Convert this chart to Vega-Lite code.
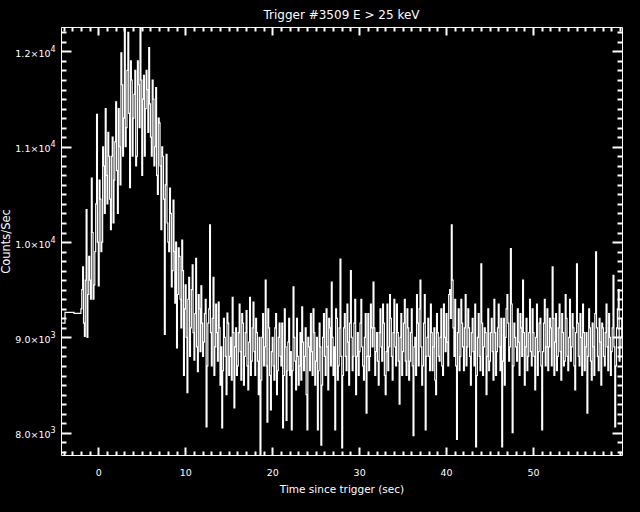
{
  "$schema": "https://vega.github.io/schema/vega-lite/v6.json",
  "width": 561,
  "height": 428,
  "autosize": {"type": "none"},
  "padding": {"left": 61, "top": 27, "right": 18, "bottom": 57},
  "background": "black",
  "title": {"text": "Trigger #3509 E > 25 keV", "color": "white", "font": "DejaVu Sans", "fontSize": 12, "fontWeight": "normal", "baseline": "alphabetic", "offset": -5, "anchor": "middle"},
  "config": {
    "view": {"stroke": "white", "strokeWidth": 1},
    "axis": {"labelColor": "white", "titleColor": "white", "labelFont": "DejaVu Sans", "titleFont": "DejaVu Sans", "labelFontSize": 9.5, "titleFontWeight": "normal", "grid": false}
  },
  "data": {"values": [
    {"t":-4.29,"c":9150},{"t":-3.83,"c":9262},{"t":-2.79,"c":9252},
    {"t":-2.0,"c":9300},{"t":-1.8,"c":9740},{"t":-1.6,"c":9010},{"t":-1.4,"c":10340},{"t":-1.2,"c":9450},
    {"t":-1.0,"c":9600},{"t":-0.8,"c":10670},{"t":-0.6,"c":9400},{"t":-0.4,"c":9900},{"t":-0.2,"c":11340},
    {"t":0.0,"c":9540},{"t":0.2,"c":10450},{"t":0.4,"c":10000},{"t":0.6,"c":10800},{"t":0.8,"c":11400},
    {"t":1.0,"c":10400},{"t":1.2,"c":10900},{"t":1.4,"c":10130},{"t":1.6,"c":11100},{"t":1.8,"c":10650},
    {"t":2.0,"c":11470},{"t":2.2,"c":10300},{"t":2.4,"c":11000},{"t":2.6,"c":11985},{"t":2.8,"c":10900},
    {"t":3.0,"c":12250},{"t":3.2,"c":11200},{"t":3.4,"c":12200},{"t":3.6,"c":10570},{"t":3.8,"c":11700},
    {"t":4.0,"c":11300},{"t":4.2,"c":11800},{"t":4.4,"c":10900},{"t":4.6,"c":11650},{"t":4.8,"c":12250},
    {"t":5.0,"c":10700},{"t":5.2,"c":11750},{"t":5.4,"c":11400},{"t":5.6,"c":11600},{"t":5.8,"c":12040},
    {"t":6.0,"c":11100},{"t":6.2,"c":11700},{"t":6.4,"c":10800},{"t":6.6,"c":11620},{"t":6.8,"c":10500},
    {"t":7.0,"c":11250},{"t":7.2,"c":10130},{"t":7.4,"c":10900},{"t":7.6,"c":9030},{"t":7.8,"c":10920},
    {"t":8.0,"c":10000},{"t":8.2,"c":10565},{"t":8.4,"c":9530},{"t":8.6,"c":10440},{"t":8.8,"c":9360},
    {"t":9.0,"c":8890},{"t":9.2,"c":9940},{"t":9.4,"c":9400},{"t":9.6,"c":10020},{"t":9.8,"c":8600},
    {"t":10.0,"c":9550},{"t":10.2,"c":8420},{"t":10.4,"c":9630},{"t":10.6,"c":9100},{"t":10.8,"c":9760},
    {"t":11.0,"c":8760},{"t":11.2,"c":9830},{"t":11.4,"c":8640},{"t":11.6,"c":9300},{"t":11.8,"c":9540},
    {"t":12.0,"c":8800},{"t":12.2,"c":9250},{"t":12.4,"c":8060},{"t":12.6,"c":9150},{"t":12.8,"c":10180},
    {"t":13.0,"c":8700},{"t":13.2,"c":9630},{"t":13.4,"c":8900},{"t":13.6,"c":9050},{"t":13.8,"c":9370},
    {"t":14.0,"c":8500},{"t":14.2,"c":8050},{"t":14.4,"c":9200},{"t":14.6,"c":8800},{"t":14.8,"c":9255},
    {"t":15.0,"c":8600},{"t":15.2,"c":9000},{"t":15.4,"c":9420},{"t":15.6,"c":8260},{"t":15.8,"c":9100},
    {"t":16.0,"c":8700},{"t":16.2,"c":9350},{"t":16.4,"c":8550},{"t":16.6,"c":9150},{"t":16.8,"c":8800},
    {"t":17.0,"c":9280},{"t":17.2,"c":8450},{"t":17.4,"c":9420},{"t":17.6,"c":8750},{"t":17.8,"c":9370},
    {"t":18.0,"c":8600},{"t":18.2,"c":9050},{"t":18.4,"c":8400},{"t":18.6,"c":7700},{"t":18.8,"c":9000},
    {"t":19.0,"c":8700},{"t":19.2,"c":9600},{"t":19.4,"c":8110},{"t":19.6,"c":9100},{"t":19.8,"c":8240},
    {"t":20.0,"c":9000},{"t":20.2,"c":8550},{"t":20.4,"c":9250},{"t":20.6,"c":8650},{"t":20.8,"c":9150},
    {"t":21.0,"c":8700},{"t":21.2,"c":8050},{"t":21.4,"c":9300},{"t":21.6,"c":8130},{"t":21.8,"c":8950},
    {"t":22.0,"c":8600},{"t":22.2,"c":8030},{"t":22.4,"c":9530},{"t":22.6,"c":8750},{"t":22.8,"c":9200},
    {"t":23.0,"c":8500},{"t":23.2,"c":9050},{"t":23.4,"c":9320},{"t":23.6,"c":8650},{"t":23.8,"c":9100},
    {"t":24.0,"c":8030},{"t":24.2,"c":8900},{"t":24.4,"c":9250},{"t":24.6,"c":8600},{"t":24.8,"c":9050},
    {"t":25.0,"c":8750},{"t":25.2,"c":8030},{"t":25.4,"c":9150},{"t":25.6,"c":7870},{"t":25.8,"c":9000},
    {"t":26.0,"c":8800},{"t":26.2,"c":9300},{"t":26.4,"c":8450},{"t":26.6,"c":9100},{"t":26.8,"c":9580},
    {"t":27.0,"c":8600},{"t":27.2,"c":8030},{"t":27.4,"c":9200},{"t":27.6,"c":8700},{"t":27.8,"c":9820},
    {"t":28.0,"c":7840},{"t":28.2,"c":9100},{"t":28.4,"c":8800},{"t":28.6,"c":9350},{"t":28.8,"c":8500},
    {"t":29.0,"c":9700},{"t":29.2,"c":8650},{"t":29.4,"c":9150},{"t":29.6,"c":8400},{"t":29.8,"c":9050},
    {"t":30.0,"c":8850},{"t":30.2,"c":9400},{"t":30.4,"c":8700},{"t":30.6,"c":9000},{"t":30.8,"c":8205},
    {"t":31.0,"c":9250},{"t":31.2,"c":8800},{"t":31.4,"c":9100},{"t":31.6,"c":9580},{"t":31.8,"c":8600},
    {"t":32.0,"c":9050},{"t":32.2,"c":8500},{"t":32.4,"c":9300},{"t":32.6,"c":8750},{"t":32.8,"c":9150},
    {"t":33.0,"c":8400},{"t":33.2,"c":9350},{"t":33.4,"c":8900},{"t":33.6,"c":9200},{"t":33.8,"c":8550},
    {"t":34.0,"c":9400},{"t":34.2,"c":8700},{"t":34.4,"c":9050},{"t":34.6,"c":8300},{"t":34.8,"c":9250},
    {"t":35.0,"c":8850},{"t":35.2,"c":9400},{"t":35.4,"c":8600},{"t":35.6,"c":9100},{"t":35.8,"c":8750},
    {"t":36.0,"c":9300},{"t":36.2,"c":7970},{"t":36.4,"c":9000},{"t":36.6,"c":9450},{"t":36.8,"c":8700},
    {"t":37.0,"c":9600},{"t":37.2,"c":8500},{"t":37.4,"c":9150},{"t":37.6,"c":8030},{"t":37.8,"c":9000},
    {"t":38.0,"c":8800},{"t":38.2,"c":9350},{"t":38.4,"c":8650},{"t":38.6,"c":9100},{"t":38.8,"c":8400},
    {"t":39.0,"c":9050},{"t":39.2,"c":8750},{"t":39.4,"c":9300},{"t":39.6,"c":8600},{"t":39.8,"c":9000},
    {"t":40.0,"c":9250},{"t":40.2,"c":8700},{"t":40.4,"c":9500},{"t":40.6,"c":10180},{"t":40.8,"c":9100},
    {"t":41.0,"c":9400},{"t":41.2,"c":7930},{"t":41.4,"c":9300},{"t":41.6,"c":8800},{"t":41.8,"c":9150},
    {"t":42.0,"c":8650},{"t":42.2,"c":9450},{"t":42.4,"c":8900},{"t":42.6,"c":9100},{"t":42.8,"c":8500},
    {"t":43.0,"c":9200},{"t":43.2,"c":8700},{"t":43.4,"c":7850},{"t":43.6,"c":9000},{"t":43.8,"c":8800},
    {"t":44.0,"c":9770},{"t":44.2,"c":8600},{"t":44.4,"c":9100},{"t":44.6,"c":8400},{"t":44.8,"c":9300},
    {"t":45.0,"c":8750},{"t":45.2,"c":9200},{"t":45.4,"c":8550},{"t":45.6,"c":9050},{"t":45.8,"c":8850},
    {"t":46.0,"c":9350},{"t":46.2,"c":8650},{"t":46.4,"c":7850},{"t":46.6,"c":9200},{"t":46.8,"c":9000},
    {"t":47.0,"c":9450},{"t":47.2,"c":8750},{"t":47.4,"c":9930},{"t":47.6,"c":8000},{"t":47.8,"c":9150},
    {"t":48.0,"c":8900},{"t":48.2,"c":9300},{"t":48.4,"c":8600},{"t":48.6,"c":9100},{"t":48.8,"c":9600},
    {"t":49.0,"c":8500},{"t":49.2,"c":9200},{"t":49.4,"c":8800},{"t":49.6,"c":9400},{"t":49.8,"c":8700},
    {"t":50.0,"c":9050},{"t":50.2,"c":8450},{"t":50.4,"c":9350},{"t":50.6,"c":8850},{"t":50.8,"c":9200},
    {"t":51.0,"c":8030},{"t":51.2,"c":9150},{"t":51.4,"c":8700},{"t":51.6,"c":9300},{"t":51.8,"c":8900},
    {"t":52.0,"c":9100},{"t":52.2,"c":9740},{"t":52.4,"c":8600},{"t":52.6,"c":9250},{"t":52.8,"c":8800},
    {"t":53.0,"c":9350},{"t":53.2,"c":8550},{"t":53.4,"c":9050},{"t":53.6,"c":8750},{"t":53.8,"c":9200},
    {"t":54.0,"c":8650},{"t":54.2,"c":9400},{"t":54.4,"c":8900},{"t":54.6,"c":9100},{"t":54.8,"c":8450},
    {"t":55.0,"c":9770},{"t":55.2,"c":8800},{"t":55.4,"c":9250},{"t":55.6,"c":8600},{"t":55.8,"c":9050},
    {"t":56.0,"c":8900},{"t":56.2,"c":8205},{"t":56.4,"c":9300},{"t":56.6,"c":8750},{"t":56.8,"c":9150},
    {"t":57.0,"c":8600},{"t":57.2,"c":9896},{"t":57.4,"c":8800},{"t":57.6,"c":9200},{"t":57.8,"c":8500},
    {"t":58.0,"c":9100},{"t":58.2,"c":8700},{"t":58.4,"c":9350},{"t":58.6,"c":8650},{"t":58.8,"c":9000},
    {"t":59.0,"c":8850},{"t":59.2,"c":9650},{"t":59.4,"c":8060},{"t":59.6,"c":9100},{"t":59.8,"c":9500},
    {"t":60.0,"c":8900},{"t":60.2,"c":9200},
    {"t":-1.9,"c":9500},{"t":-1.7,"c":9150},{"t":-1.5,"c":9600},{"t":-1.3,"c":9000},{"t":-1.1,"c":9850},
    {"t":-0.9,"c":9400},{"t":-0.7,"c":10100},{"t":-0.5,"c":9550},{"t":-0.3,"c":10400},{"t":-0.1,"c":10000},
    {"t":0.1,"c":10650},{"t":0.3,"c":9900},{"t":0.5,"c":11000},{"t":0.7,"c":10300},{"t":0.9,"c":10700},
    {"t":1.1,"c":11150},{"t":1.3,"c":10450},{"t":1.5,"c":10900},{"t":1.7,"c":10200},{"t":1.9,"c":11050},
    {"t":2.1,"c":10750},{"t":2.3,"c":11400},{"t":2.5,"c":10600},{"t":2.7,"c":11650},{"t":2.9,"c":11300},
    {"t":3.1,"c":11000},{"t":3.3,"c":11800},{"t":3.5,"c":11350},{"t":3.7,"c":11900},{"t":3.9,"c":10900},
    {"t":4.1,"c":11550},{"t":4.3,"c":10800},{"t":4.5,"c":11900},{"t":4.7,"c":11200},{"t":4.9,"c":11700},
    {"t":5.1,"c":11500},{"t":5.3,"c":10900},{"t":5.5,"c":11800},{"t":5.7,"c":11150},{"t":5.9,"c":11450},
    {"t":6.1,"c":10900},{"t":6.3,"c":11500},{"t":6.5,"c":11000},{"t":6.7,"c":10700},{"t":6.9,"c":11300},
    {"t":7.1,"c":10800},{"t":7.3,"c":11000},{"t":7.5,"c":10450},{"t":7.7,"c":10600},{"t":7.9,"c":10200},
    {"t":8.1,"c":9900},{"t":8.3,"c":10300},{"t":8.5,"c":9700},{"t":8.7,"c":9900},{"t":8.9,"c":10000},
    {"t":9.1,"c":9450},{"t":9.3,"c":9850},{"t":9.5,"c":9100},{"t":9.7,"c":9700},{"t":9.9,"c":9300},
    {"t":10.1,"c":9000},{"t":10.3,"c":9400},{"t":10.5,"c":8800},{"t":10.7,"c":9500},{"t":10.9,"c":9050},
    {"t":11.1,"c":9250},{"t":11.3,"c":8900},{"t":11.5,"c":9450},{"t":11.7,"c":8850},{"t":11.9,"c":9150},
    {"t":12.1,"c":8950},{"t":12.3,"c":9400},{"t":12.5,"c":8700},{"t":12.7,"c":9300},{"t":12.9,"c":9050},
    {"t":13.1,"c":9200},{"t":13.3,"c":8600},{"t":13.5,"c":9350},{"t":13.7,"c":8750},{"t":13.9,"c":9100},
    {"t":14.1,"c":8900},{"t":14.3,"c":8650},{"t":14.5,"c":9000},{"t":14.7,"c":8400},{"t":14.9,"c":9150},
    {"t":15.1,"c":8800},{"t":15.3,"c":8550},{"t":15.5,"c":9050},{"t":15.7,"c":8900},{"t":15.9,"c":8600},
    {"t":16.1,"c":9050},{"t":16.3,"c":8850},{"t":16.5,"c":9250},{"t":16.7,"c":8500},{"t":16.9,"c":9050},
    {"t":17.1,"c":8700},{"t":17.3,"c":8950},{"t":17.5,"c":8600},{"t":17.7,"c":9100},{"t":17.9,"c":8850},
    {"t":18.1,"c":9200},{"t":18.3,"c":8750},{"t":18.5,"c":9000},{"t":18.7,"c":8550},{"t":18.9,"c":9250},
    {"t":19.1,"c":8900},{"t":19.3,"c":8700},{"t":19.5,"c":9300},{"t":19.7,"c":8600},{"t":19.9,"c":8850},
    {"t":20.1,"c":8700},{"t":20.3,"c":9100},{"t":20.5,"c":8400},{"t":20.7,"c":9000},{"t":20.9,"c":8800},
    {"t":21.1,"c":9150},{"t":21.3,"c":8600},{"t":21.5,"c":8900},{"t":21.7,"c":8650},{"t":21.9,"c":9200},
    {"t":22.1,"c":8850},{"t":22.3,"c":8650},{"t":22.5,"c":9000},{"t":22.7,"c":8450},{"t":22.9,"c":8800},
    {"t":23.1,"c":8700},{"t":23.3,"c":8550},{"t":23.5,"c":8950},{"t":23.7,"c":8800},{"t":23.9,"c":8400},
    {"t":24.1,"c":9000},{"t":24.3,"c":8650},{"t":24.5,"c":8850},{"t":24.7,"c":9300},{"t":24.9,"c":8500},
    {"t":25.1,"c":9000},{"t":25.3,"c":8650},{"t":25.5,"c":8900},{"t":25.7,"c":8500},{"t":25.9,"c":9250},
    {"t":26.1,"c":8600},{"t":26.3,"c":8900},{"t":26.5,"c":9200},{"t":26.7,"c":8700},{"t":26.9,"c":9000},
    {"t":27.1,"c":8900},{"t":27.3,"c":9300},{"t":27.5,"c":8550},{"t":27.7,"c":9100},{"t":27.9,"c":8800},
    {"t":28.1,"c":8600},{"t":28.3,"c":9250},{"t":28.5,"c":8650},{"t":28.7,"c":8950},{"t":28.9,"c":9150},
    {"t":29.1,"c":9000},{"t":29.3,"c":8800},{"t":29.5,"c":9400},{"t":29.7,"c":8800},{"t":29.9,"c":8600},
    {"t":30.1,"c":9150},{"t":30.3,"c":8900},{"t":30.5,"c":8550},{"t":30.7,"c":9250},{"t":30.9,"c":8800},
    {"t":31.1,"c":8650},{"t":31.3,"c":9350},{"t":31.5,"c":8900},{"t":31.7,"c":9100},{"t":31.9,"c":8850},
    {"t":32.1,"c":8750},{"t":32.3,"c":9050},{"t":32.5,"c":8900},{"t":32.7,"c":9350},{"t":32.9,"c":8600},
    {"t":33.1,"c":8850},{"t":33.3,"c":8650},{"t":33.5,"c":9450},{"t":33.7,"c":8800},{"t":33.9,"c":9050},
    {"t":34.1,"c":8900},{"t":34.3,"c":9350},{"t":34.5,"c":8750},{"t":34.7,"c":9000},{"t":34.9,"c":8600},
    {"t":35.1,"c":9150},{"t":35.3,"c":8750},{"t":35.5,"c":9300},{"t":35.7,"c":8550},{"t":35.9,"c":9050},
    {"t":36.1,"c":8700},{"t":36.3,"c":8900},{"t":36.5,"c":8600},{"t":36.7,"c":9150},{"t":36.9,"c":9300},
    {"t":37.1,"c":8900},{"t":37.3,"c":8700},{"t":37.5,"c":9450},{"t":37.7,"c":8800},{"t":37.9,"c":9200},
    {"t":38.1,"c":8650},{"t":38.3,"c":9050},{"t":38.5,"c":8900},{"t":38.7,"c":8550},{"t":38.9,"c":9250},
    {"t":39.1,"c":8800},{"t":39.3,"c":9000},{"t":39.5,"c":8700},{"t":39.7,"c":9350},{"t":39.9,"c":8850},
    {"t":40.1,"c":8950},{"t":40.3,"c":9450},{"t":40.5,"c":9200},{"t":40.7,"c":9600},{"t":40.9,"c":8800},
    {"t":41.1,"c":8700},{"t":41.3,"c":9050},{"t":41.5,"c":8650},{"t":41.7,"c":9400},{"t":41.9,"c":8900},
    {"t":42.1,"c":9100},{"t":42.3,"c":8700},{"t":42.5,"c":9300},{"t":42.7,"c":8800},{"t":42.9,"c":9050},
    {"t":43.1,"c":8850},{"t":43.3,"c":9350},{"t":43.5,"c":8600},{"t":43.7,"c":9250},{"t":43.9,"c":8650},
    {"t":44.1,"c":9150},{"t":44.3,"c":8900},{"t":44.5,"c":9050},{"t":44.7,"c":8800},{"t":44.9,"c":8650},
    {"t":45.1,"c":9050},{"t":45.3,"c":8850},{"t":45.5,"c":9400},{"t":45.7,"c":8600},{"t":45.9,"c":9100},
    {"t":46.1,"c":8900},{"t":46.3,"c":9200},{"t":46.5,"c":8750},{"t":46.7,"c":8500},{"t":46.9,"c":9300},
    {"t":47.1,"c":9150},{"t":47.3,"c":8900},{"t":47.5,"c":9350},{"t":47.7,"c":8700},{"t":47.9,"c":9000},
    {"t":48.1,"c":8750},{"t":48.3,"c":8950},{"t":48.5,"c":9250},{"t":48.7,"c":8800},{"t":48.9,"c":9050},
    {"t":49.1,"c":8900},{"t":49.3,"c":8650},{"t":49.5,"c":9050},{"t":49.7,"c":8850},{"t":49.9,"c":9300},
    {"t":50.1,"c":8800},{"t":50.3,"c":9000},{"t":50.5,"c":8600},{"t":50.7,"c":9150},{"t":50.9,"c":8700},
    {"t":51.1,"c":8850},{"t":51.3,"c":9400},{"t":51.5,"c":8900},{"t":51.7,"c":8650},{"t":51.9,"c":9200},
    {"t":52.1,"c":8700},{"t":52.3,"c":9200},{"t":52.5,"c":8950},{"t":52.7,"c":8650},{"t":52.9,"c":9100},
    {"t":53.1,"c":8850},{"t":53.3,"c":9250},{"t":53.5,"c":8700},{"t":53.7,"c":9450},{"t":53.9,"c":8800},
    {"t":54.1,"c":9000},{"t":54.3,"c":8750},{"t":54.5,"c":9250},{"t":54.7,"c":8700},{"t":54.9,"c":9050},
    {"t":55.1,"c":9150},{"t":55.3,"c":8700},{"t":55.5,"c":9000},{"t":55.7,"c":9350},{"t":55.9,"c":8650},
    {"t":56.1,"c":9050},{"t":56.3,"c":8800},{"t":56.5,"c":9100},{"t":56.7,"c":8550},{"t":56.9,"c":8900},
    {"t":57.1,"c":9250},{"t":57.3,"c":9100},{"t":57.5,"c":8650},{"t":57.7,"c":8950},{"t":57.9,"c":9150},
    {"t":58.1,"c":8800},{"t":58.3,"c":9050},{"t":58.5,"c":8900},{"t":58.7,"c":9250},{"t":58.9,"c":8600},
    {"t":59.1,"c":9100},{"t":59.3,"c":8900},{"t":59.5,"c":8700},{"t":59.7,"c":9300},{"t":59.9,"c":8750},
    {"t":60.1,"c":9000}
  ]},
  "encoding": {
    "x": {"field": "t", "type": "quantitative", "scale": {"domain": [-4.29, 60.23], "nice": false, "zero": false}},
    "y": {"field": "c", "type": "quantitative", "scale": {"domain": [7766, 12256], "nice": false, "zero": false}}
  },
  "layer": [
    {
      "mark": {"type": "line", "color": "white", "strokeWidth": 1.2, "interpolate": "step-after", "clip": true},
      "encoding": {
        "x": {"field": "t", "type": "quantitative",
              "axis": {"orient": "bottom", "values": [0,10,20,30,40,50], "domain": false, "ticks": false, "labels": true, "labelPadding": 12, "title": "Time since trigger (sec)", "titleFontSize": 10.5, "titlePadding": 8}},
        "y": {"field": "c", "type": "quantitative",
              "axis": {"orient": "left", "values": [8000,9000,10000,11000,12000], "domain": false, "ticks": false, "labels": true, "labelPadding": 11, "labelOffset": 2,
                       "labelExpr": "datum.value >= 10000 ? format(datum.value/10000, '.1f') + '×10' : format(datum.value/1000, '.1f') + '×10'",
                       "title": "Counts/Sec", "titleFontSize": 11.5, "titlePadding": 3}}
      }
    },
    {
      "mark": {"type": "line", "strokeOpacity": 0},
      "encoding": {
        "x": {"field": "t", "type": "quantitative", "axis": {"orient": "bottom", "values": [0,10,20,30,40,50], "title": null, "domain": false, "labels": false, "ticks": true, "tickColor": "#ffffff", "tickWidth": 2, "tickSize": 8, "offset": -8}},
        "y": {"field": "c", "type": "quantitative", "axis": {"orient": "left", "values": [8000,9000,10000,11000,12000], "title": null, "domain": false, "ticks": false, "labels": true, "labelFontSize": 8, "labelPadding": 6, "labelOffset": -2, "labelExpr": "datum.value >= 10000 ? '4' : '3'"}}
      }
    },
    {
      "mark": {"type": "line", "strokeOpacity": 0},
      "encoding": {
        "x": {"field": "t", "type": "quantitative", "axis": {"orient": "top", "values": [0,10,20,30,40,50], "title": null, "domain": false, "labels": false, "ticks": true, "tickColor": "#ffffff", "tickWidth": 2, "tickSize": 8, "offset": -8}},
        "y": {"field": "c", "type": "quantitative", "axis": {"orient": "left", "values": [8000,9000,10000,11000,12000], "title": null, "domain": false, "labels": false, "ticks": true, "tickColor": "#ffffff", "tickWidth": 2, "tickSize": 10, "offset": -10}}
      }
    },
    {
      "mark": {"type": "line", "strokeOpacity": 0},
      "encoding": {
        "x": {"field": "t", "type": "quantitative", "axis": {"orient": "bottom", "values": [-4,-3,-2,-1,1,2,3,4,5,6,7,8,9,11,12,13,14,15,16,17,18,19,21,22,23,24,25,26,27,28,29,31,32,33,34,35,36,37,38,39,41,42,43,44,45,46,47,48,49,51,52,53,54,55,56,57,58,59,60], "title": null, "domain": false, "labels": false, "ticks": true, "tickColor": "#ffffff", "tickWidth": 2, "tickSize": 4, "offset": -4}},
        "y": {"field": "c", "type": "quantitative", "axis": {"orient": "right", "values": [8000,9000,10000,11000,12000], "title": null, "domain": false, "labels": false, "ticks": true, "tickColor": "#ffffff", "tickWidth": 2, "tickSize": 10, "offset": -10}}
      }
    },
    {
      "mark": {"type": "line", "strokeOpacity": 0},
      "encoding": {
        "x": {"field": "t", "type": "quantitative", "axis": {"orient": "top", "values": [-4,-3,-2,-1,1,2,3,4,5,6,7,8,9,11,12,13,14,15,16,17,18,19,21,22,23,24,25,26,27,28,29,31,32,33,34,35,36,37,38,39,41,42,43,44,45,46,47,48,49,51,52,53,54,55,56,57,58,59,60], "title": null, "domain": false, "labels": false, "ticks": true, "tickColor": "#ffffff", "tickWidth": 2, "tickSize": 4, "offset": -4}},
        "y": {"field": "c", "type": "quantitative", "axis": {"orient": "left", "values": [7800,7900,8100,8200,8300,8400,8500,8600,8700,8800,8900,9100,9200,9300,9400,9500,9600,9700,9800,9900,10100,10200,10300,10400,10500,10600,10700,10800,10900,11100,11200,11300,11400,11500,11600,11700,11800,11900,12100,12200], "title": null, "domain": false, "labels": false, "ticks": true, "tickColor": "#ffffff", "tickWidth": 2, "tickSize": 5, "offset": -5}}
      }
    },
    {
      "mark": {"type": "line", "strokeOpacity": 0},
      "encoding": {
        "x": {"field": "t", "type": "quantitative", "axis": null},
        "y": {"field": "c", "type": "quantitative", "axis": {"orient": "right", "values": [7800,7900,8100,8200,8300,8400,8500,8600,8700,8800,8900,9100,9200,9300,9400,9500,9600,9700,9800,9900,10100,10200,10300,10400,10500,10600,10700,10800,10900,11100,11200,11300,11400,11500,11600,11700,11800,11900,12100,12200], "title": null, "domain": false, "labels": false, "ticks": true, "tickColor": "#ffffff", "tickWidth": 2, "tickSize": 5, "offset": -5}}
      }
    }
  ],
  "resolve": {"axis": {"x": "independent", "y": "independent"}}
}
